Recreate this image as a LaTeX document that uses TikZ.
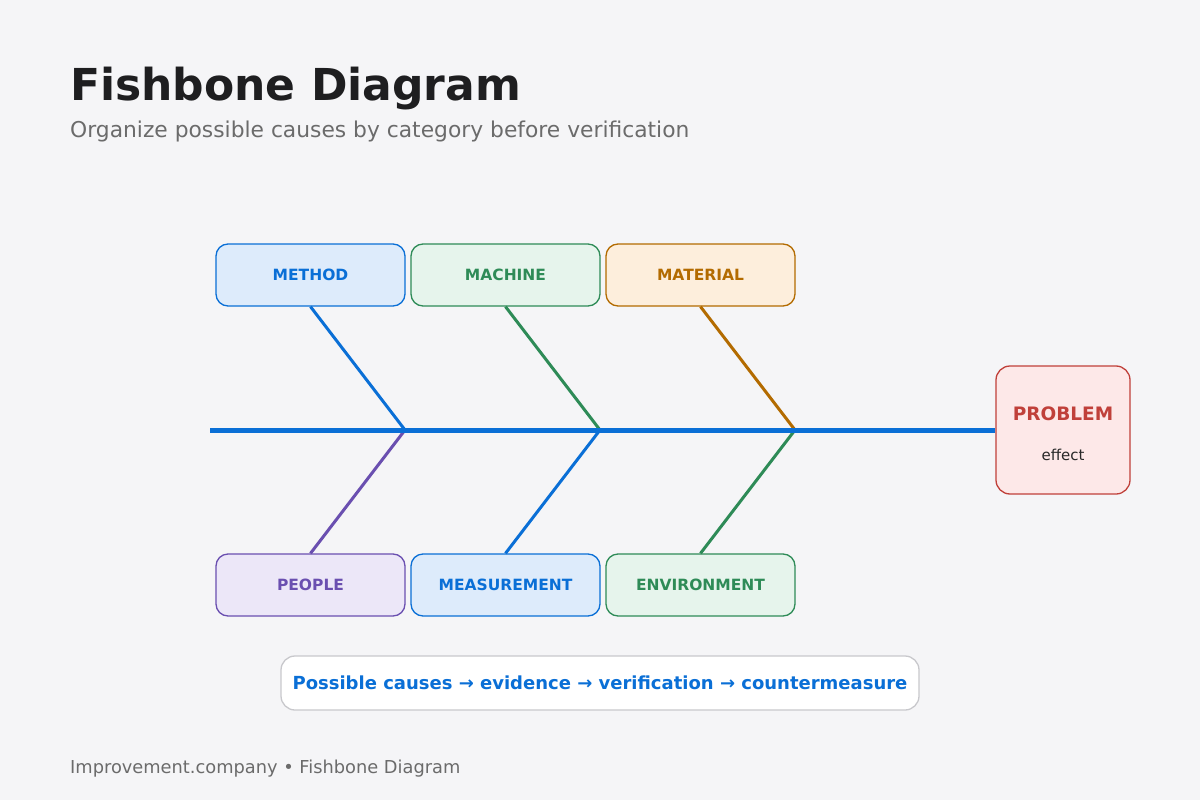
\documentclass[tikz,border=0pt]{standalone}
\usepackage{fontspec}
\setmainfont{DejaVu Sans}
\usepackage{xcolor}
\usetikzlibrary{positioning}
\definecolor{bgc}{HTML}{F5F5F7}
\definecolor{bluec}{HTML}{0A6FD6}
\definecolor{bluef}{HTML}{DDEBFB}
\definecolor{greenc}{HTML}{2E8B57}
\definecolor{greenf}{HTML}{E6F4EC}
\definecolor{brownc}{HTML}{B36B00}
\definecolor{brownf}{HTML}{FDEEDC}
\definecolor{purplec}{HTML}{6A4FB0}
\definecolor{purplef}{HTML}{ECE7F8}
\definecolor{redc}{HTML}{C0403A}
\definecolor{redf}{HTML}{FDE8E8}
\definecolor{greyc}{HTML}{6B6B6B}
\tikzset{
  cat/.style={draw=#1c, fill=#1f, text=#1c, rounded corners=12pt, line width=1.3pt,
    minimum width=189pt, minimum height=62pt, inner sep=0pt,
    font=\fontsize{15.5}{18}\selectfont\bfseries},
  bone/.style={draw=#1, line width=3pt}
}
\begin{document}
\begin{tikzpicture}[x=1pt,y=-1pt]
    \fill[bgc] (0,0) rectangle (1200,800);
    \useasboundingbox (0,0) rectangle (1200,800);

    \node[anchor=base west, inner sep=0pt, text={rgb,255:red,30;green,30;blue,32},
      font=\fontsize{44}{50}\selectfont\bfseries] (title) at (70,100) {Fishbone Diagram};
    \node[anchor=base west, inner sep=0pt, text=greyc,
      font=\fontsize{21.8}{26}\selectfont] (subtitle) at (70,137) {Organize possible causes by category before verification};

    % spine and joints
    \coordinate (tail) at (210,430);
    \coordinate (j1) at (405,430);
    \coordinate (j2) at (600,430);
    \coordinate (j3) at (795,430);
    \node[draw=redc, fill=redf, rounded corners=14pt, line width=1.3pt,
      minimum width=134pt, minimum height=128pt] (problem) at (1063,430) {};
    \node[text=redc, font=\fontsize{18.5}{22}\selectfont\bfseries] (ptitle) at (1063,414) {PROBLEM};
    \node[text={rgb,255:red,40;green,40;blue,40}, font=\fontsize{15}{18}\selectfont] (peffect) at (1063,455) {effect};

    % categories
    \node[cat=blue] (method) at (310.5,275) {METHOD};
    \node[cat=green] (machine) at (505.5,275) {MACHINE};
    \node[cat=brown] (material) at (700.5,275) {MATERIAL};
    \node[cat=purple] (people) at (310.5,585) {PEOPLE};
    \node[cat=blue] (measure) at (505.5,585) {MEASUREMENT};
    \node[cat=green] (environ) at (700.5,585) {ENVIRONMENT};

    \draw[bone=bluec] (method.south) -- (j1);
    \draw[bone=greenc] (machine.south) -- (j2);
    \draw[bone=brownc] (material.south) -- (j3);
    \draw[bone=purplec] (people.north) -- (j1);
    \draw[bone=bluec] (measure.north) -- (j2);
    \draw[bone=greenc] (environ.north) -- (j3);
    \draw[bluec, line width=5pt] (tail) -- (problem.west);

    \node[draw={rgb,255:red,200;green,200;blue,204}, fill=white, rounded corners=14pt,
      line width=1.3pt, minimum width=638pt, minimum height=54pt, text=bluec,
      font=\fontsize{18}{21}\selectfont\bfseries] (flow) at (600,683)
      {Possible causes → evidence → verification → countermeasure};

    \node[anchor=base west, inner sep=0pt, text=greyc,
      font=\fontsize{17.8}{21}\selectfont] (footer) at (70,773) {Improvement.company • Fishbone Diagram};
\end{tikzpicture}
\end{document}
